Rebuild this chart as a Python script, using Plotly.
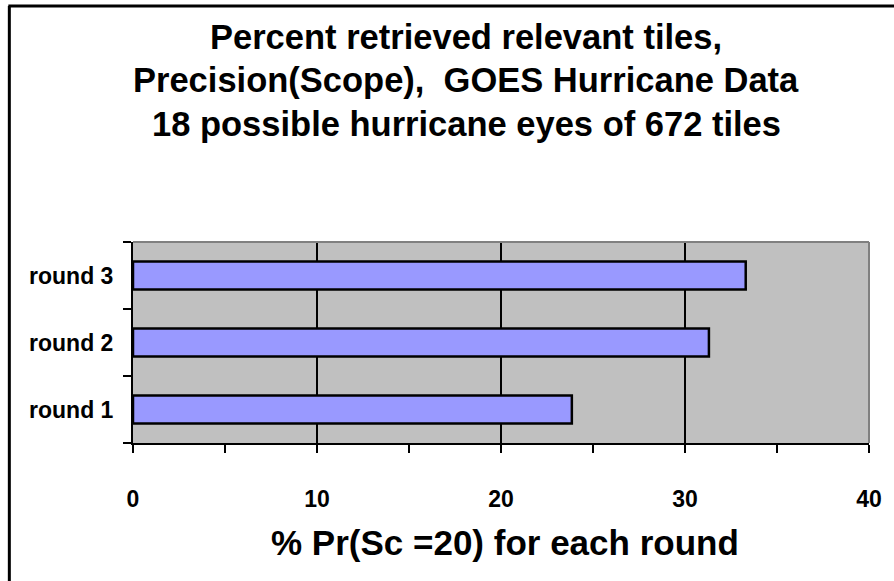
import plotly.graph_objects as go

# Data
rounds = ["round 1", "round 2", "round 3"]
precision_pct = [23.85, 31.3, 33.3]
x_ticks = [0, 10, 20, 30, 40]

title_lines = [
    "Percent retrieved relevant tiles,",
    "Precision(Scope),  GOES Hurricane Data",
    "18 possible hurricane eyes of 672 tiles",
]
x_title = "% Pr(Sc =20) for each round"

FONT = "Liberation Sans, Arial, sans-serif"
W, H = 894, 581
L, R, T, B = 133, 871, 242, 443  # plot area in pixels


def px(xp):
    return (xp - L) / (R - L)


def py(yp):
    return (B - yp) / (B - T)


fig = go.Figure(
    go.Bar(
        x=precision_pct,
        y=rounds,
        orientation="h",
        width=0.42,
        marker=dict(color="#9999FF", line=dict(color="black", width=2.5)),
    )
)

fig.update_layout(
    width=W,
    height=H,
    margin=dict(l=L, r=W - R, t=T, b=H - B, pad=0),
    paper_bgcolor="white",
    plot_bgcolor="#C0C0C0",
    showlegend=False,
    font=dict(family=FONT, color="black"),
)

fig.update_xaxes(
    range=[0, 40],
    tickvals=x_ticks,
    ticktext=[str(v) for v in x_ticks],
    ticks="outside",
    ticklen=8,
    tickwidth=2,
    tickcolor="black",
    minor=dict(dtick=5, tick0=0, ticks="outside", ticklen=8, tickwidth=2,
               tickcolor="black", showgrid=False),
    showgrid=True,
    gridcolor="black",
    gridwidth=1.5,
    zeroline=False,
    showline=True,
    linecolor="black",
    linewidth=2,
    tickfont=dict(family=FONT, size=23, weight="bold"),
    ticklabelstandoff=26,
    fixedrange=True,
)

fig.update_yaxes(
    type="category",
    categoryorder="array",
    categoryarray=rounds,
    range=[-0.5, 2.5],
    ticks="outside",
    tickson="boundaries",
    ticklen=8,
    tickwidth=2,
    tickcolor="black",
    showgrid=False,
    zeroline=False,
    showline=True,
    linecolor="black",
    linewidth=2,
    tickfont=dict(family=FONT, size=23, weight="bold"),
    ticklabelstandoff=13,
    fixedrange=True,
)

shapes = [
    # gray top and right edges of the plot area
    dict(type="line", xref="paper", yref="paper", x0=0, x1=1, y0=1, y1=1,
         line=dict(color="#808080", width=2), layer="above"),
    dict(type="line", xref="paper", yref="paper", x0=1, x1=1, y0=0, y1=1,
         line=dict(color="#808080", width=2), layer="above"),
    # outer chart frame (left and top)
    dict(type="line", xref="paper", yref="paper", x0=px(9), x1=px(9),
         y0=py(6), y1=py(H + 5), line=dict(color="black", width=3)),
    dict(type="line", xref="paper", yref="paper", x0=px(8), x1=px(W + 5),
         y0=py(6), y1=py(6), line=dict(color="black", width=3)),
]
fig.update_layout(shapes=shapes)

# one annotation per title line, spaced like the chart's title block
title_centers = [37, 80, 124]
annotations = [
    dict(text=line, xref="paper", yref="paper",
         x=px(467), y=py(yc), xanchor="center", yanchor="middle",
         showarrow=False, align="center",
         font=dict(family=FONT, size=34.5, weight="bold", color="black"))
    for line, yc in zip(title_lines, title_centers)
]
annotations.append(
    dict(text=x_title, xref="paper", yref="paper",
         x=px(506), y=py(542), xanchor="center", yanchor="middle",
         showarrow=False,
         font=dict(family=FONT, size=35, weight="bold", color="black"))
)
fig.update_layout(annotations=annotations)

fig.write_html("out.html")
